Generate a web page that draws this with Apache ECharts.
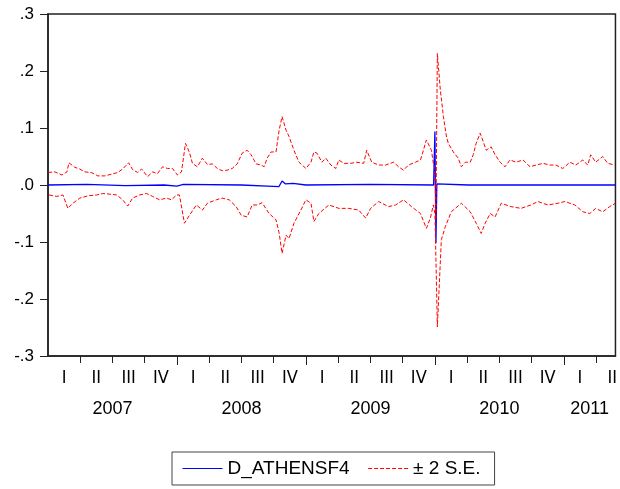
<!DOCTYPE html>
<html>
<head>
<meta charset="utf-8">
<script src="https://cdn.jsdelivr.net/npm/echarts@6/dist/echarts.min.js"></script>
<style>
  html, body { margin: 0; padding: 0; background: #fff; }
  #chart { width: 620px; height: 489px; }
</style>
</head>
<body>
<div id="chart"></div>
<script>
// time in decimal years
const upperT = [2007.000, 2007.054, 2007.108, 2007.147, 2007.162, 2007.208, 2007.247, 2007.286, 2007.340, 2007.386,
  2007.440, 2007.494, 2007.541, 2007.579, 2007.625, 2007.656, 2007.695, 2007.726, 2007.772, 2007.811,
  2007.849, 2007.888, 2007.927, 2007.965, 2008.004, 2008.035, 2008.066, 2008.097, 2008.120, 2008.158,
  2008.197, 2008.236, 2008.274, 2008.313, 2008.351, 2008.390, 2008.429, 2008.467, 2008.506, 2008.544,
  2008.575, 2008.614, 2008.653, 2008.676, 2008.699, 2008.730, 2008.768, 2008.792, 2008.815, 2008.846,
  2008.869, 2008.907, 2008.946, 2009.000, 2009.039, 2009.062, 2009.085, 2009.124, 2009.154, 2009.193,
  2009.232, 2009.255, 2009.293, 2009.347, 2009.394, 2009.448, 2009.471, 2009.510, 2009.564, 2009.618,
  2009.680, 2009.718, 2009.757, 2009.795, 2009.849, 2009.888, 2009.911, 2009.934, 2009.973, 2009.988,
  2010.000, 2010.008, 2010.019, 2010.042, 2010.066, 2010.089, 2010.104, 2010.143, 2010.181, 2010.205,
  2010.236, 2010.274, 2010.297, 2010.320, 2010.351, 2010.375, 2010.398, 2010.436, 2010.467, 2010.506,
  2010.544, 2010.583, 2010.629, 2010.683, 2010.737, 2010.784, 2010.838, 2010.892, 2010.938, 2010.992,
  2011.046, 2011.093, 2011.147, 2011.185, 2011.208, 2011.247, 2011.301, 2011.340, 2011.394]
const upperV = [0.022, 0.023, 0.0175, 0.023, 0.039, 0.031, 0.028, 0.023, 0.0216, 0.016,
  0.016, 0.019, 0.022, 0.028, 0.039, 0.027, 0.022, 0.028, 0.0146, 0.023,
  0.020, 0.032, 0.029, 0.029, 0.0175, 0.023, 0.073, 0.057, 0.038, 0.032,
  0.047, 0.036, 0.037, 0.029, 0.025, 0.026, 0.029, 0.037, 0.056, 0.061,
  0.053, 0.037, 0.035, 0.032, 0.047, 0.058, 0.058, 0.096, 0.120, 0.096,
  0.085, 0.061, 0.040, 0.029, 0.040, 0.058, 0.056, 0.040, 0.047, 0.035,
  0.029, 0.044, 0.038, 0.038, 0.040, 0.038, 0.061, 0.040, 0.035, 0.035,
  0.040, 0.032, 0.026, 0.035, 0.040, 0.044, 0.061, 0.079, 0.061, 0.038,
  0.030, -0.060, 0.231, 0.167, 0.120, 0.086, 0.073, 0.058, 0.047, 0.032,
  0.040, 0.040, 0.053, 0.073, 0.091, 0.076, 0.061, 0.067, 0.053, 0.040,
  0.032, 0.044, 0.040, 0.044, 0.032, 0.035, 0.038, 0.035, 0.035, 0.029,
  0.040, 0.035, 0.044, 0.035, 0.053, 0.040, 0.050, 0.038, 0.035]

const lowerT = [2007.008, 2007.069, 2007.116, 2007.154, 2007.193, 2007.247, 2007.309, 2007.378, 2007.425, 2007.479,
  2007.533, 2007.579, 2007.618, 2007.656, 2007.710, 2007.764, 2007.811, 2007.865, 2007.919, 2007.958,
  2007.996, 2008.019, 2008.058, 2008.097, 2008.151, 2008.197, 2008.236, 2008.305, 2008.351, 2008.405,
  2008.459, 2008.498, 2008.544, 2008.583, 2008.622, 2008.660, 2008.714, 2008.768, 2008.792, 2008.815,
  2008.846, 2008.869, 2008.907, 2008.961, 2009.000, 2009.039, 2009.062, 2009.100, 2009.178, 2009.255,
  2009.332, 2009.409, 2009.463, 2009.502, 2009.564, 2009.641, 2009.695, 2009.757, 2009.819, 2009.888,
  2009.934, 2009.965, 2009.988, 2010.000, 2010.008, 2010.019, 2010.050, 2010.081, 2010.127, 2010.205,
  2010.274, 2010.320, 2010.359, 2010.390, 2010.429, 2010.467, 2010.514, 2010.591, 2010.668, 2010.745,
  2010.799, 2010.876, 2010.954, 2011.008, 2011.085, 2011.147, 2011.201, 2011.247, 2011.301, 2011.355,
  2011.400]
const lowerV = [-0.0175, -0.020, -0.0175, -0.041, -0.032, -0.023, -0.019, -0.0175, -0.015, -0.016,
  -0.0175, -0.026, -0.037, -0.023, -0.0175, -0.015, -0.020, -0.026, -0.023, -0.026,
  -0.0175, -0.0175, -0.067, -0.053, -0.035, -0.044, -0.032, -0.026, -0.023, -0.026,
  -0.038, -0.053, -0.056, -0.035, -0.035, -0.031, -0.050, -0.061, -0.084, -0.120,
  -0.088, -0.094, -0.067, -0.044, -0.026, -0.032, -0.064, -0.050, -0.035, -0.041,
  -0.041, -0.044, -0.058, -0.041, -0.029, -0.038, -0.035, -0.026, -0.038, -0.050,
  -0.076, -0.058, -0.035, -0.050, -0.130, -0.249, -0.096, -0.073, -0.047, -0.032,
  -0.047, -0.067, -0.085, -0.067, -0.050, -0.056, -0.032, -0.038, -0.041, -0.035,
  -0.029, -0.035, -0.032, -0.029, -0.035, -0.047, -0.050, -0.041, -0.047, -0.038,
  -0.032]

const fcT = [2007.000, 2007.300, 2007.600, 2007.900, 2008.000, 2008.050, 2008.500, 2008.700, 2008.790, 2008.815,
  2008.840, 2008.900, 2009.000, 2009.500, 2009.990, 2010.000, 2010.008, 2010.015, 2010.260, 2010.300, 2011.400]
const fcV = [0.000, 0.001, -0.001, 0.000, -0.002, 0.001, 0.000, -0.002, -0.003, 0.007,
  0.002, 0.003, 0.000, 0.001, 0.000, 0.094, -0.102, 0.002, 0.000, 0.000, 0.000]

const quarterNames = ['I', 'II', 'III', 'IV']
const years = [2007, 2008, 2009, 2010, 2011]
const yLabels = { '0.3': '.3', '0.2': '.2', '0.1': '.1', '0.0': '.0', '-0.1': '-.1', '-0.2': '-.2', '-0.3': '-.3' }

const startT = 2007
const endT = 2011.4

const zip = (t, v) => t.map((x, i) => [x, v[i]])

const quarterEdges = []
const quarterMids = []
for (let q = 0; startT + q * 0.25 < endT; q++) {
  if (q > 0) quarterEdges.push(startT + q * 0.25)
  quarterMids.push(Math.min(startT + q * 0.25 + 0.125, endT - 0.01))
}
const yearEdges = years.slice(1)
const yearMids = years.map(y => (y + Math.min(y + 1, endT)) / 2)

const font = 'Liberation Sans, Arial, sans-serif'
const narrow = 'Liberation Sans Narrow, DejaVu Sans Condensed, Liberation Sans, sans-serif'
const chart = echarts.init(document.getElementById('chart'))
chart.setOption({
  animation: false,
  grid: {
    left: 48, top: 14, right: 2, bottom: 133,
    show: true, borderColor: '#222', borderWidth: 1.5, backgroundColor: '#fff'
  },
  legend: {
    data: ['D_ATHENSF4', '± 2 S.E.'],
    left: 172, top: 452,
    padding: [7, 14, 7, 10],
    itemWidth: 40, itemHeight: 10, itemGap: 18,
    itemStyle: { opacity: 0 },
    lineStyle: { width: 1 },
    borderColor: '#444', borderWidth: 1, borderRadius: 0,
    textStyle: { fontFamily: font, fontSize: 19, color: '#000' }
  },
  xAxis: [
    {
      type: 'value', min: startT, max: endT,
      axisLine: { show: true, onZero: false, lineStyle: { color: '#222', width: 1.5 } },
      axisTick: { show: true, customValues: quarterEdges, length: 7, lineStyle: { color: '#222' } },
      axisLabel: {
        customValues: quarterMids, margin: 13,
        fontFamily: narrow, fontSize: 18, color: '#000',
        formatter: v => quarterNames[Math.floor((v - Math.floor(v)) * 4)]
      },
      splitLine: { show: false }
    },
    {
      type: 'value', min: startT, max: endT, position: 'bottom',
      axisLine: { show: false, onZero: false },
      axisTick: { show: true, customValues: yearEdges, length: 9, lineStyle: { color: '#222' } },
      axisLabel: {
        customValues: yearMids, margin: 44,
        fontFamily: font, fontSize: 18, color: '#000',
        formatter: v => String(Math.floor(v))
      },
      splitLine: { show: false }
    }
  ],
  yAxis: {
    type: 'value', min: -0.3, max: 0.3, interval: 0.1,
    axisLine: { show: true, lineStyle: { color: '#222', width: 1.5 } },
    axisTick: { show: true, length: 8, lineStyle: { color: '#222' } },
    axisLabel: {
      margin: 14, fontFamily: font, fontSize: 17, color: '#000',
      formatter: v => yLabels[v.toFixed(1)] || v.toFixed(1)
    },
    splitLine: { show: false }
  },
  series: [
    {
      name: 'D_ATHENSF4', type: 'line', data: zip(fcT, fcV),
      symbol: 'none', lineStyle: { color: '#0000ff', width: 1.3 }, itemStyle: { color: '#0000ff' }
    },
    {
      name: '± 2 S.E.', type: 'line', data: zip(upperT, upperV),
      symbol: 'none', lineStyle: { color: '#ff0000', width: 1, type: [4, 2] }, itemStyle: { color: '#ff0000' }
    },
    {
      name: '± 2 S.E.', type: 'line', data: zip(lowerT, lowerV),
      symbol: 'none', lineStyle: { color: '#ff0000', width: 1, type: [4, 2] }, itemStyle: { color: '#ff0000' }
    }
  ]
})
</script>
</body>
</html>
